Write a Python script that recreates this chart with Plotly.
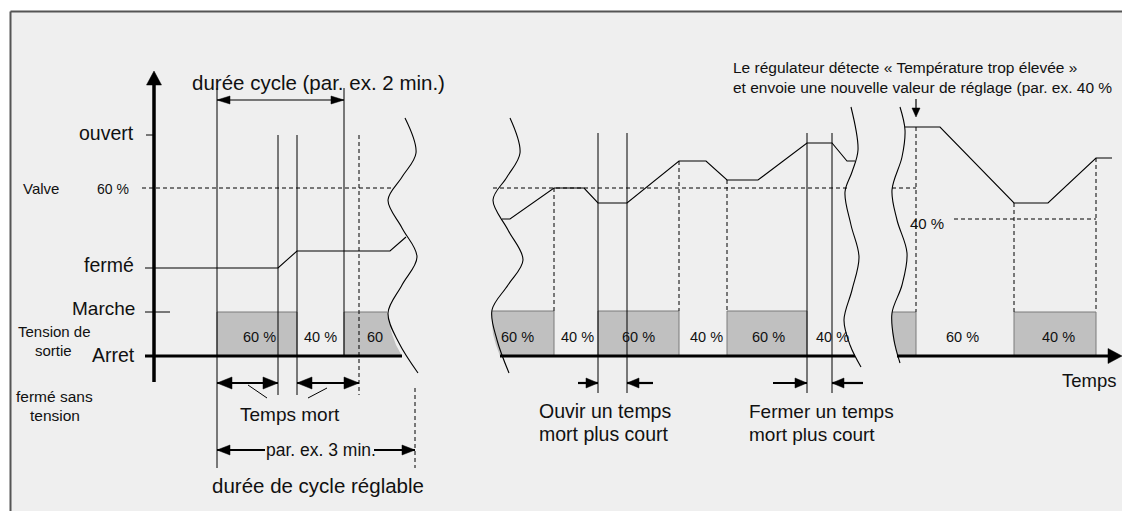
import plotly.graph_objects as go

W, H = 1122, 511
FONT = "Liberation Sans, Arial, sans-serif"
GRAY_FILL = "#c0c0c0"
GRAY_EDGE = "#7a7a7a"
PANEL = "#efefef"

# ---------------- diagram data (time on x, level on y) ----------------
# level scale
level_names = ["ouvert", "60 %", "40 %", "fermé", "Marche", "Arret"]
level_y = [135, 188, 219, 268, 312, 356]
LV = dict(zip(level_names, level_y))

# valve position curves for the three time windows
valve_left_t = [145, 278, 297, 390, 406]
valve_left_v = [268, 268, 251, 251, 237]
valve_mid_t = [502, 510, 554, 584, 598, 627, 679, 706, 727, 758, 807, 832, 847, 855]
valve_mid_v = [219, 219, 188, 188, 203, 203, 161, 161, 180, 180, 143, 143, 161, 161]
valve_right_t = [905, 940, 1014, 1048, 1096, 1112]
valve_right_v = [127, 127, 203, 203, 158, 158]

# output voltage (PWM) periods: start, end, on/off, duty label
pwm_periods = [
    (217, 297, True, "60 %"), (297, 344, False, "40 %"), (344, 387, True, "60"),
    (492, 554, True, "60 %"), (554, 598, False, "40 %"), (598, 679, True, "60 %"),
    (679, 727, False, "40 %"), (727, 807, True, "60 %"), (807, 850, False, "40 %"),
    (892, 916, True, ""), (916, 1014, False, "60 %"), (1014, 1096, True, "40 %"),
]
pwm_label_x = [259, 320, 375, 517, 577, 638, 706, 768, 832, 904, 962, 1058]

# break lines (wavy cut marks) through the time axis
wave1 = [(405, 118), (416, 153), (402, 177), (388, 200), (402, 228), (417, 257),
         (402, 285), (388, 313), (399, 343), (418, 373)]
wave2 = [(510, 118), (520, 153), (507, 177), (493, 200), (508, 230), (523, 260),
         (508, 285), (492, 310), (497, 340), (509, 373)]
wave3 = [(851, 107), (858, 150), (852, 172), (845, 192), (851, 225), (859, 257),
         (852, 290), (844, 320), (850, 345), (861, 367)]
wave4 = [(900, 107), (905, 130), (902, 157), (892, 190), (897, 220), (907, 253),
         (902, 285), (892, 313), (894, 340), (900, 363)]

# solid switching / dead-time marker lines (t, top, bottom)
solid_marks = [(217, 88, 468), (278, 135, 395), (297, 135, 395), (344, 88, 356),
               (598, 133, 393), (627, 133, 393), (807, 133, 393), (832, 133, 393)]
# dashed projection lines (t, top, bottom)
dashed_marks = [(359, 135, 395), (415, 388, 468), (554, 188, 311), (679, 161, 311),
                (727, 180, 311), (916, 127, 312), (1014, 203, 312), (1096, 158, 312)]
# dashed set-point lines (level, start, end)
dashed_levels = [(188, 142, 392), (188, 493, 848), (188, 892, 916), (219, 954, 1096)]

fig = go.Figure()


def add_segments(segs, width=1.0, dash=None, color="black"):
    xs, ys = [], []
    for x0, y0, x1, y1 in segs:
        xs += [x0, x1, None]
        ys += [y0, y1, None]
    fig.add_trace(go.Scatter(x=xs, y=ys, mode="lines", hoverinfo="skip",
                             line=dict(color=color, width=width, dash=dash)))


def add_heads(specs, color="black"):
    # specs: tip x, tip y, direction x, direction y, length, width
    xs, ys = [], []
    for tx, ty, dx, dy, L, Wd in specs:
        bx, by = tx - dx * L, ty - dy * L
        px, py = -dy, dx
        xs += [tx, bx + px * Wd / 2, bx - px * Wd / 2, tx, None]
        ys += [ty, by + py * Wd / 2, by - py * Wd / 2, ty, None]
    fig.add_trace(go.Scatter(x=xs, y=ys, mode="lines", fill="toself", fillcolor=color,
                             hoverinfo="skip", line=dict(color=color, width=0.5)))


def add_poly(pts, fill):
    xs = [p[0] for p in pts] + [pts[0][0]]
    ys = [p[1] for p in pts] + [pts[0][1]]
    fig.add_trace(go.Scatter(x=xs, y=ys, mode="lines", fill="toself", fillcolor=fill,
                             hoverinfo="skip", line=dict(width=0, color=fill)))


# ---------------- frame: white margin strips, then top and left rules ----------------
add_poly([(0, 0), (W, 0), (W, 11), (0, 11)], "white")
add_poly([(0, 0), (10, 0), (10, H), (0, H)], "white")
add_segments([(10.5, 11.5, W, 11.5), (10.5, 11.5, 10.5, H)], width=2, color="#555555")

# ---------------- PWM bars ----------------
top, bot = LV["Marche"], LV["Arret"]
edges = []
for i, (t0, t1, on, _) in enumerate(pwm_periods):
    if not on:
        continue
    if t0 == 344:       # runs into the first break line
        add_poly([(t0, top), (387, top), (389, 323), (392, 334), (396, 345), (402, bot), (t0, bot)], GRAY_FILL)
        edges += [(t0, bot, t0, top), (t0, top, 387, top)]
    elif t0 == 492:     # starts at the second break line
        add_poly([(492, top - 1), (t1, top - 1), (t1, bot), (500, bot), (496, 345), (493, 334), (492, 323)], GRAY_FILL)
        edges += [(492, top - 1, t1, top - 1), (t1, top - 1, t1, bot)]
    elif t0 == 892:     # starts at the fourth break line
        add_poly([(892, top), (t1, top), (t1, bot), (897, bot), (893, 340), (892, 326)], GRAY_FILL)
        edges += [(892, top, t1, top), (t1, top, t1, bot)]
    else:
        y_top = top - 1 if 480 < t0 < 860 else top
        add_poly([(t0, y_top), (t1, y_top), (t1, bot), (t0, bot)], GRAY_FILL)
        edges += [(t0, bot, t0, y_top), (t0, y_top, t1, y_top), (t1, y_top, t1, bot)]
add_segments(edges, width=1, color=GRAY_EDGE)

# ---------------- dashed helper lines ----------------
add_segments([(x, a, x, b) for x, a, b in dashed_marks] +
             [(a, y, b, y) for y, a, b in dashed_levels], width=1, dash="4px,3px")

# ---------------- valve curves ----------------
for ts, vs in [(valve_left_t, valve_left_v), (valve_mid_t, valve_mid_v), (valve_right_t, valve_right_v)]:
    fig.add_trace(go.Scatter(x=ts, y=vs, mode="lines", hoverinfo="skip",
                             line=dict(color="black", width=1.1)))

# ---------------- marker lines, ticks, small leaders ----------------
add_segments([(x, a, x, b) for x, a, b in solid_marks] +
             [(146, LV["ouvert"], 154, LV["ouvert"]), (145, LV["Marche"], 170, LV["Marche"]),
              (248, 385, 267, 398), (308, 398, 327, 388)], width=1)

# ---------------- axes ----------------
add_segments([(154, 382, 154, 80)], width=3.5)
add_segments([(145, bot, 402, bot), (500, bot, 855, bot), (897, bot, 1110, bot)], width=3)

# ---------------- dimension arrows ----------------
add_segments([(217, 100, 344, 100), (916, 99, 916, 110)], width=1.2)
add_segments([(217, 383, 278, 383), (297, 383, 359, 383),
              (217, 450, 265, 450), (374, 450, 415, 450),
              (578, 383, 598, 383), (653, 383, 627, 383),
              (773, 383, 807, 383), (863, 383, 832, 383)], width=2.2)
add_heads([
    (154, 71, 0, -1, 14, 15), (1122, bot, 1, 0, 14, 15),
    (217, 100, -1, 0, 13, 8), (344, 100, 1, 0, 13, 8),
    (217, 383, -1, 0, 15, 12), (278, 383, 1, 0, 15, 12),
    (297, 383, -1, 0, 15, 12), (359, 383, 1, 0, 15, 12),
    (217, 450, -1, 0, 13, 10), (415, 450, 1, 0, 13, 10),
    (598, 383, 1, 0, 12, 10), (627, 383, -1, 0, 12, 10),
    (807, 383, 1, 0, 12, 10), (832, 383, -1, 0, 12, 10),
    (916, 117, 0, 1, 9, 8),
])

# ---------------- break lines ----------------
for wv in (wave1, wave2, wave3, wave4):
    fig.add_trace(go.Scatter(x=[p[0] for p in wv], y=[p[1] for p in wv], mode="lines",
                             line=dict(color="black", width=1.1, shape="spline", smoothing=1.0),
                             hoverinfo="skip"))

# ---------------- text ----------------
texts = [
    ("durée cycle (par. ex. 2 min.)", 318, 82, 20.5, "center"),
    ("ouvert", 136, 133, 19.5, "right"),
    ("Valve", 21, 188, 15, "left"),
    ("60 %", 131, 189, 14, "right"),
    ("fermé", 136, 265, 19.5, "right"),
    ("Marche", 137, 308, 19, "right"),
    ("Tension de", 16, 331, 15, "left"),
    ("sortie", 53, 350, 15, "center"),
    ("Arret", 137, 355, 19.5, "right"),
    ("fermé sans", 14, 396, 15.5, "left"),
    ("tension", 55, 415, 15.5, "center"),
    ("Temps mort", 290, 414, 19, "center"),
    ("par. ex. 3 min.", 321, 450, 17.5, "center"),
    ("durée de cycle réglable", 318, 485, 20.5, "center"),
    ("Ouvir un temps", 537, 411, 19.5, "left"),
    ("mort plus court", 537, 434, 19.5, "left"),
    ("Fermer un temps", 747, 411, 19, "left"),
    ("mort plus court", 747, 434, 19, "left"),
    ("Temps", 1119, 380, 18.5, "right"),
    ("Le régulateur détecte « Température trop élevée »", 731, 67, 15.5, "left"),
    ("et envoie une nouvelle valeur de réglage (par. ex. 40 %", 731, 87, 15.5, "left"),
    ("40 %", 927, 223, 15, "center"),
]
annotations = [dict(text=t, x=x, y=y, xref="x", yref="y", showarrow=False,
                    xanchor=anc, yanchor="middle", font=dict(family=FONT, size=s, color="#111"))
               for t, x, y, s, anc in texts]
for (t0, t1, on, lab), lx in zip(pwm_periods, pwm_label_x):
    if lab:
        annotations.append(dict(text=lab, x=lx, y=337, xref="x", yref="y", showarrow=False,
                                xanchor="center", yanchor="middle",
                                font=dict(family=FONT, size=14.5, color="#111")))

fig.update_layout(
    width=W, height=H, autosize=False,
    margin=dict(l=0, r=0, t=0, b=0, pad=0),
    paper_bgcolor=PANEL, plot_bgcolor=PANEL,
    showlegend=False,
    xaxis=dict(range=[0, W], visible=False, fixedrange=True),
    yaxis=dict(range=[H, 0], visible=False, fixedrange=True),
    annotations=annotations,
)

fig.write_html("out.html")
